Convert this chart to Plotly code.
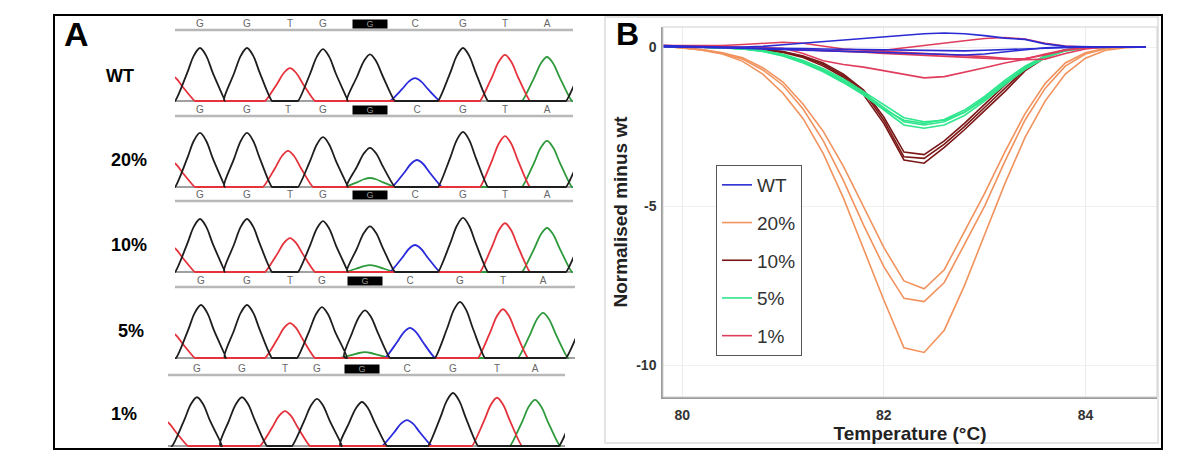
import plotly.graph_objects as go

W, H = 1200, 465


def px(x):
    return x / W


def py(y):
    return 1 - y / H


# ---------------- Panel B data (HRM difference plot) ----------------
temperature = [79.8, 80.0, 80.2, 80.4, 80.6, 80.8, 81.0, 81.2, 81.4, 81.6, 81.8, 82.0, 82.2,
               82.4, 82.6, 82.8, 83.0, 83.2, 83.4, 83.6, 83.8, 84.0, 84.2, 84.4, 84.6]

wt_curves = [
    [0.05, 0.03, 0.02, 0.0, 0.0, 0.02, 0.07, 0.12, 0.16, 0.2, 0.25, 0.3, 0.36, 0.42, 0.44, 0.42, 0.36, 0.28, 0.24, 0.1, 0.02, 0.0, 0.0, 0.0, 0.0],
    [0.02, 0.02, 0.0, -0.02, -0.04, -0.06, -0.08, -0.1, -0.12, -0.14, -0.17, -0.19, -0.21, -0.23, -0.25, -0.25, -0.22, -0.16, -0.08, -0.02, 0.0, 0.0, 0.0, 0.0, 0.0],
    [0.0, 0.0, -0.01, -0.02, -0.03, -0.03, -0.04, -0.05, -0.06, -0.07, -0.08, -0.09, -0.1, -0.11, -0.12, -0.12, -0.1, -0.08, -0.05, -0.02, 0.0, 0.0, 0.0, 0.0, 0.0],
]
p20_curves = [
    [0.03, -0.02, -0.1, -0.22, -0.45, -0.85, -1.45, -2.25, -3.35, -4.75, -6.35, -7.95, -9.45, -9.6, -8.9, -7.5, -5.9, -4.3, -2.85, -1.7, -0.85, -0.35, -0.1, -0.02, 0.0],
    [0.03, -0.02, -0.09, -0.2, -0.38, -0.72, -1.2, -1.95, -2.95, -4.2, -5.6, -6.9, -7.9, -8.0, -7.4, -6.2, -5.0, -3.6, -2.3, -1.3, -0.6, -0.22, -0.05, 0.0, 0.0],
    [0.03, -0.02, -0.08, -0.18, -0.34, -0.65, -1.1, -1.8, -2.65, -3.75, -5.0, -6.3, -7.35, -7.6, -7.0, -5.8, -4.6, -3.3, -2.1, -1.15, -0.5, -0.18, -0.04, 0.0, 0.0],
]
p10_curves = [
    [0.03, 0.02, 0.0, -0.02, -0.04, -0.08, -0.15, -0.3, -0.55, -0.9, -1.4, -2.3, -3.45, -3.5, -3.05, -2.5, -1.9, -1.3, -0.7, -0.3, -0.1, -0.02, 0.0, 0.0, 0.0],
    [0.03, 0.02, 0.0, -0.02, -0.05, -0.09, -0.17, -0.33, -0.6, -0.95, -1.5, -2.4, -3.55, -3.65, -3.15, -2.6, -2.0, -1.4, -0.75, -0.33, -0.11, -0.03, 0.0, 0.0, 0.0],
    [0.03, 0.02, 0.0, -0.02, -0.04, -0.07, -0.14, -0.28, -0.5, -0.85, -1.35, -2.2, -3.3, -3.38, -2.95, -2.4, -1.8, -1.2, -0.65, -0.27, -0.09, -0.02, 0.0, 0.0, 0.0],
]
p5_curves = [
    [0.03, 0.02, 0.0, -0.02, -0.05, -0.12, -0.25, -0.45, -0.72, -1.05, -1.45, -1.9, -2.35, -2.45, -2.35, -2.05, -1.6, -1.1, -0.65, -0.3, -0.1, -0.03, 0.0, 0.0, 0.0],
    [0.03, 0.02, 0.0, -0.02, -0.06, -0.13, -0.27, -0.48, -0.76, -1.1, -1.5, -1.98, -2.45, -2.55, -2.45, -2.15, -1.7, -1.18, -0.7, -0.33, -0.12, -0.03, 0.0, 0.0, 0.0],
    [0.03, 0.02, 0.0, -0.02, -0.05, -0.11, -0.23, -0.42, -0.68, -1.0, -1.4, -1.82, -2.22, -2.35, -2.3, -2.05, -1.65, -1.15, -0.7, -0.33, -0.12, -0.03, 0.0, 0.0, 0.0],
    [0.03, 0.02, 0.0, -0.03, -0.06, -0.14, -0.28, -0.5, -0.78, -1.12, -1.5, -1.95, -2.3, -2.4, -2.28, -1.98, -1.55, -1.05, -0.6, -0.28, -0.09, -0.02, 0.0, 0.0, 0.0],
]
p1_curves = [
    [0.05, 0.04, 0.02, 0.0, -0.01, -0.02, -0.04, -0.2, -0.43, -0.55, -0.63, -0.75, -0.87, -0.97, -0.93, -0.8, -0.65, -0.5, -0.38, -0.22, -0.09, -0.02, 0.0, 0.0, 0.0],
    [0.05, 0.05, 0.04, 0.05, 0.08, 0.12, 0.15, 0.12, 0.02, -0.06, -0.1, -0.13, -0.16, -0.2, -0.24, -0.27, -0.3, -0.35, -0.4, -0.38, -0.2, -0.06, 0.0, 0.0, 0.0],
    [0.05, 0.04, 0.02, 0.0, -0.02, -0.04, -0.07, -0.1, -0.12, -0.14, -0.15, -0.1, -0.02, 0.06, 0.13, 0.2, 0.27, 0.3, 0.25, 0.12, 0.03, 0.0, 0.0, 0.0, 0.0],
    [0.04, 0.03, 0.02, 0.0, -0.02, -0.04, -0.06, -0.08, -0.1, -0.13, -0.16, -0.2, -0.23, -0.27, -0.3, -0.33, -0.36, -0.38, -0.36, -0.25, -0.1, -0.02, 0.0, 0.0, 0.0],
]

series_names = ["WT", "20%", "10%", "5%", "1%"]
series_colors = ["#2b2bd4", "#f2925c", "#7a1616", "#2ee68c", "#e03c5c"]
series_curves = [wt_curves, p20_curves, p10_curves, p5_curves, p1_curves]

x_ticks = [80, 82, 84]
y_ticks = [0, -5, -10]
y_tick_text = ["0", "-5", "-10"]

# ---------------- Panel A data (sequencing chromatograms) ----------------
row_labels = ["WT", "20%", "10%", "5%", "1%"]
base_calls = ["G", "G", "T", "G", "G", "C", "G", "T", "A"]
mutant_index = 4
peak_scans = [
    [25, 72, 115, 148, 195, 240, 288, 330, 372],
    [25, 72, 113, 148, 195, 242, 288, 330, 372],
    [25, 72, 115, 148, 195, 240, 288, 330, 372],
    [26, 72, 115, 147, 190, 235, 285, 328, 368],
    [29, 74, 117, 149, 194, 239, 285, 329, 367],
]
peak_heights = [
    [1.0, 1.0, 0.62, 0.98, 0.88, 0.43, 1.0, 0.87, 0.83],
    [1.02, 1.02, 0.68, 0.94, 0.74, 0.51, 1.04, 0.96, 0.87],
    [1.0, 1.0, 0.64, 0.96, 0.86, 0.51, 1.02, 0.92, 0.83],
    [1.0, 1.0, 0.66, 0.96, 0.9, 0.57, 1.06, 0.92, 0.85],
    [0.92, 0.92, 0.66, 0.89, 0.83, 0.49, 1.0, 0.91, 0.87],
]
mutant_a_heights = [0.0, 0.17, 0.13, 0.11, 0.0]
flank_left = ("T", -5, 0.5)
flank_right = ("G", 416, 0.9)

# ---------------- styling / layout (pixels) ----------------
row_baselines = [101, 187, 272, 358, 446]
row_x_extent = [(175, 573), (175, 573), (175, 573), (175, 575), (168, 565)]
row_label_pos = [(120, 76), (129, 160), (129, 245), (131, 331), (124, 414)]
unit_px = 53.0
channel_colors = {"G": "#1e1e1e", "T": "#e5323b", "C": "#2b2bdc", "A": "#2e9a3c"}
# bell-shaped peak outline (offset in scans, fraction of height) used to draw each called peak
peak_profile = [(-25, 0.0), (-13, 0.52), (-6, 0.86), (0, 1.0), (6, 0.86), (13, 0.52), (25, 0.0)]

fig = go.Figure()

# ---- Panel B traces (draw order: 20%,10%,5%,1%,WT) ----
for idx in [1, 2, 3, 4, 0]:
    name = series_names[idx]
    for k, ys in enumerate(series_curves[idx]):
        fig.add_trace(go.Scatter(
            x=temperature, y=ys, mode="lines",
            line=dict(color=series_colors[idx], width=1.6),
            name=name, legendgroup=name, showlegend=(k == 0),
            legendrank=idx + 1, xaxis="x", yaxis="y", hoverinfo="skip"))


def channel_points(peaks):
    xs, ys = [], []
    for pos, h in sorted(peaks):
        left = pos + peak_profile[0][0]
        if xs and xs[-1] > left - 4:
            prev = xs.pop()
            ys.pop()
            xs.append((prev + left) / 2)
            ys.append(0.03)
        else:
            xs += [left - 1, left]
            ys += [0, 0]
        for off, frac in peak_profile[1:]:
            xs.append(pos + off)
            ys.append(h * frac)
        xs.append(pos + peak_profile[-1][0] + 1)
        ys.append(0)
    return xs, ys


shapes = []
annotations = []
layout_axes = {}
for r in range(5):
    n = r + 2
    x0, x1 = row_x_extent[r]
    base = row_baselines[r]
    layout_axes[f"xaxis{n}"] = dict(domain=[px(x0), px(x1)], range=[0, x1 - x0],
                                    visible=False, anchor=f"y{n}", fixedrange=True)
    layout_axes[f"yaxis{n}"] = dict(domain=[py(base + 1.6), py(base - 1.6 * unit_px)],
                                    range=[-0.03, 1.6], visible=False, anchor=f"x{n}",
                                    fixedrange=True)
    peaks = {c: [] for c in channel_colors}
    for i, b in enumerate(base_calls):
        peaks[b].append((peak_scans[r][i], peak_heights[r][i]))
    if mutant_a_heights[r] > 0:
        peaks["A"].append((peak_scans[r][mutant_index], mutant_a_heights[r]))
    peaks[flank_left[0]].append((flank_left[1], flank_left[2]))
    peaks[flank_right[0]].append((flank_right[1], flank_right[2]))
    for c in ["A", "C", "T", "G"]:
        xs, ys = channel_points(peaks[c])
        fig.add_trace(go.Scatter(x=xs, y=ys, mode="lines",
                                 line=dict(color=channel_colors[c], width=1.8,
                                           shape="spline", smoothing=1.0),
                                 showlegend=False, hoverinfo="skip",
                                 xaxis=f"x{n}", yaxis=f"y{n}"))
    lx = [peak_scans[r][i] for i in range(len(base_calls)) if i != mutant_index]
    lt = [base_calls[i] for i in range(len(base_calls)) if i != mutant_index]
    fig.add_trace(go.Scatter(x=lx, y=[1.45] * len(lx), mode="text", text=lt,
                             textfont=dict(family="Arial", size=10, color="#666666"),
                             cliponaxis=False, showlegend=False, hoverinfo="skip",
                             xaxis=f"x{n}", yaxis=f"y{n}"))
    annotations.append(dict(x=peak_scans[r][mutant_index], y=1.45, xref=f"x{n}", yref=f"y{n}",
                            text=base_calls[mutant_index], showarrow=False, bgcolor="#000000",
                            width=34, height=8, borderpad=0, xanchor="center", yanchor="middle",
                            font=dict(family="Arial", size=9, color="#9a9a9a")))
    shapes.append(dict(type="line", xref=f"x{n} domain", yref=f"y{n}", x0=0, x1=1, y0=1.34, y1=1.34,
                       line=dict(color="#b8b8b8", width=2.5), layer="below"))
    shapes.append(dict(type="line", xref=f"x{n} domain", yref=f"y{n}", x0=0, x1=1, y0=0, y1=0,
                       line=dict(color="#a0a0a0", width=2), layer="below"))
    lxp, lyp = row_label_pos[r]
    annotations.append(dict(x=px(lxp), y=py(lyp), xref="paper", yref="paper", text=row_labels[r],
                            showarrow=False, xanchor="center", yanchor="middle",
                            font=dict(family="Arial", size=18, color="#000000", weight="bold")))

annotations.append(dict(x=px(76), y=py(34), xref="paper", yref="paper", text="A", showarrow=False,
                        xanchor="center", yanchor="middle",
                        font=dict(family="Arial", size=34, color="#000000", weight="bold")))
annotations.append(dict(x=px(627), y=py(34), xref="paper", yref="paper", text="B", showarrow=False,
                        xanchor="center", yanchor="middle",
                        font=dict(family="Arial", size=32, color="#000000", weight="bold")))

shapes.append(dict(type="rect", xref="paper", yref="paper", x0=px(605), x1=px(1158), y0=py(443),
                   y1=py(17), line=dict(color="#dcdcdc", width=1.5)))
shapes.append(dict(type="rect", xref="x domain", yref="y domain", x0=0, x1=1, y0=0, y1=1,
                   line=dict(color="#cfcfcf", width=1)))
shapes.append(dict(type="rect", xref="paper", yref="paper", x0=px(54), x1=px(1162), y0=py(449),
                   y1=py(15), line=dict(color="#000000", width=2)))

fig.update_layout(
    width=W, height=H, margin=dict(l=0, r=0, t=0, b=0),
    paper_bgcolor="white", plot_bgcolor="rgba(0,0,0,0)",
    font=dict(family="Arial", color="#333333"),
    showlegend=True,
    legend=dict(x=px(716), y=py(165), xanchor="left", yanchor="top", bgcolor="white",
                bordercolor="#555555", borderwidth=1,
                font=dict(family="Arial", size=19, color="#333333"),
                tracegroupgap=10, itemwidth=30, traceorder="grouped"),
    xaxis=dict(domain=[px(663), px(1157)], range=[79.81, 84.71], tickvals=x_ticks,
               showgrid=True, gridcolor="#ececec", zeroline=False, showline=True, linecolor="#9a9a9a",
               linewidth=1.5, ticks="outside", ticklen=4, tickcolor="rgba(0,0,0,0)",
               tickfont=dict(family="Arial", size=14, color="#333333", weight="bold"),
               title=dict(text="Temperature (°C)", standoff=4,
                          font=dict(family="Arial", size=19, color="#222222", weight="bold")),
               anchor="y", fixedrange=True),
    yaxis=dict(domain=[py(397), py(27)], range=[-11.0, 0.63], tickvals=y_ticks, ticktext=y_tick_text,
               showgrid=True, gridcolor="#f0f0f0", zeroline=False, showline=True, linecolor="#9a9a9a",
               linewidth=1.5, ticks="outside", ticklen=2, tickcolor="rgba(0,0,0,0)",
               tickfont=dict(family="Arial", size=14, color="#333333", weight="bold"),
               title=dict(text="Normalised minus wt", standoff=4,
                          font=dict(family="Arial", size=19, color="#222222", weight="bold")),
               anchor="x", fixedrange=True),
    shapes=shapes, annotations=annotations,
    **layout_axes,
)

fig.write_html("out.html", config={"displayModeBar": False},
               post_script="document.body.style.margin='0';")
